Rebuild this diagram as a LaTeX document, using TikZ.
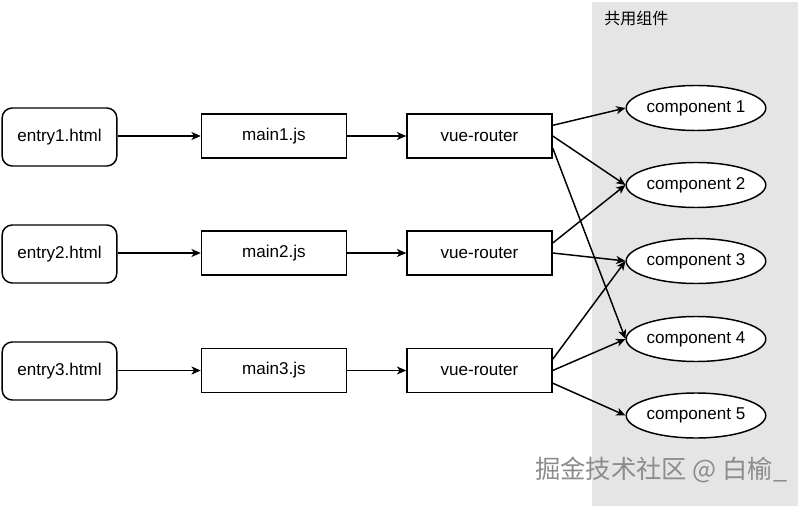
\documentclass[tikz,border=0pt]{standalone}
\usepackage{fontspec}
\setmainfont{Liberation Sans}
\newfontfamily\cjkfont{Noto Sans CJK SC}
\usetikzlibrary{arrows.meta,shapes.geometric}

\begin{document}
\begin{tikzpicture}[x=0.75pt,y=-0.75pt,
   entrybox/.style={draw,line width=1.1pt,rounded corners=7.5pt,minimum width=86pt,minimum height=43.5pt,font=\fontsize{12.8}{15}\selectfont},
   jsbox/.style={draw,line width=1.1pt,minimum width=108.75pt,minimum height=33pt,font=\fontsize{12.8}{15}\selectfont},
   compnode/.style={draw,ellipse,fill=white,line width=1.1pt,minimum width=99pt,minimum height=33.75pt,inner sep=0pt,font=\fontsize{12.8}{15}\selectfont},
   link/.style={-{Stealth[length=7pt,width=6pt,inset=2pt]},line width=1.1pt}]
   \useasboundingbox (0,0) rectangle (800,506);
   \fill[black!10] (592,2) rectangle (798,506);
   \path (604,18) node[anchor=west,inner sep=0pt,font=\cjkfont\fontsize{12}{14}\selectfont] (title) {共用组件};

   \path (59.5,137) node[entrybox] (entry1) {entry1.html};
   \path (59.5,254) node[entrybox] (entry2) {entry2.html};
   \path (59.5,371) node[entrybox] (entry3) {entry3.html};

   \path (274,136) node[jsbox] (main1) {main1.js};
   \path (274,253) node[jsbox] (main2) {main2.js};
   \path (274,370.5) node[jsbox] (main3) {main3.js};

   \path (479.5,136) node[jsbox] (vr1) {vue-router};
   \path (479.5,253) node[jsbox] (vr2) {vue-router};
   \path (479.5,370.5) node[jsbox] (vr3) {vue-router};

   \path (696,108) node[compnode] (c1) {component 1};
   \path (696,185) node[compnode] (c2) {component 2};
   \path (696,261) node[compnode] (c3) {component 3};
   \path (696,339) node[compnode] (c4) {component 4};
   \path (696,415.5) node[compnode] (c5) {component 5};

   \foreach \i in {1,2,3} {
     \draw[link] (entry\i.east |- main\i) -- (main\i);
     \draw[link] (main\i) -- (vr\i);
   }
   \draw[link] ([yshift=8pt]vr1.east) -- (c1.west);
   \draw[link] (vr1.east) -- (c2.west);
   \draw[link] ([yshift=-9pt]vr1.east) -- (c4.west);
   \draw[link] ([yshift=7.5pt]vr2.east) -- (c2.west);
   \draw[link] (vr2.east) -- (c3.west);
   \draw[link] ([yshift=8.5pt]vr3.east) -- (c3.west);
   \draw[link] (vr3.east) -- (c4.west);
   \draw[link] ([yshift=-9.5pt]vr3.east) -- (c5.west);

   \path (535,470) node[anchor=west,inner sep=0pt,text=black!45,font=\cjkfont\fontsize{19}{21}\selectfont] (mark) {掘金技术社区 @ 白榆\_};
\end{tikzpicture}
\end{document}
